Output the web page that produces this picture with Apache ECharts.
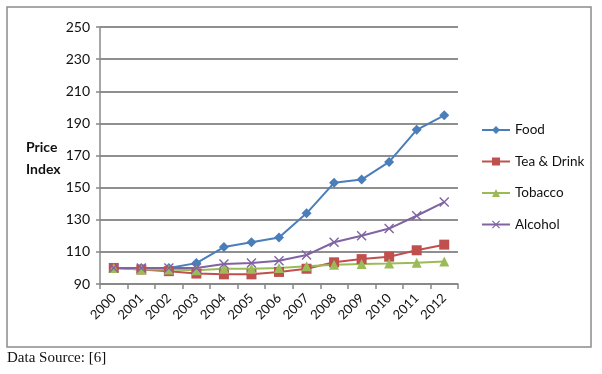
<!DOCTYPE html>
<html>
<head>
<meta charset="utf-8">
<script src="https://cdn.jsdelivr.net/npm/echarts@6/dist/echarts.min.js"></script>
<style>
    html, body { margin: 0; padding: 0; background: #fff; }
    #chart { width: 602px; height: 374px; }
</style>
</head>
<body>
<div id="chart"></div>
<script>
// categories and series values
const years = ['2000', '2001', '2002', '2003', '2004', '2005', '2006', '2007', '2008', '2009', '2010', '2011', '2012'];
const food = [100, 100, 100, 103, 113, 116, 119, 134, 153, 155, 166, 186, 195];
const teaDrink = [100, 99, 98, 96.5, 96, 96, 97.5, 99.5, 103.5, 105.5, 107, 111, 114.5];
const tobacco = [100, 99, 99, 98.5, 99.5, 99.5, 100, 101, 102, 102.5, 102.8, 103.2, 104];
const alcohol = [100, 100, 100, 100, 102.5, 103, 104.5, 108, 116, 120, 124.5, 132.5, 141];
const yTicks = { min: 90, max: 250, interval: 20 };

const chart = echarts.init(document.getElementById('chart'));

// cross marker like the Excel 'x'
const crossSymbol = 'path://M0,1L1,0L5,4L9,0L10,1L6,5L10,9L9,10L5,6L1,10L0,9L4,5Z';

function lineSeries(name, data, color, symbol, size) {
    return {
        name: name,
        type: 'line',
        data: data,
        symbol: symbol,
        symbolSize: size,
        showAllSymbol: true,
        lineStyle: { color: color, width: 2 },
        itemStyle: { color: color },
        emphasis: { disabled: true }
    };
}

const option = {
    animation: false,
    textStyle: { fontFamily: 'Lato, "Noto Sans", sans-serif' },
    graphic: [
        {
            type: 'rect',
            shape: { x: 7, y: 7, width: 584, height: 340 },
            style: { fill: 'none', stroke: '#8c8c8c', lineWidth: 1.5 },
            silent: true
        },
        {
            type: 'text',
            left: 26,
            top: 136,
            style: {
                text: 'Price\nIndex',
                font: 'bold 14px Lato, "Noto Sans", sans-serif',
                fill: '#111',
                align: 'center',
                lineHeight: 22
            }
        },
        {
            type: 'text',
            left: 7,
            top: 351,
            style: {
                text: 'Data Source: [6]',
                font: '15px "Liberation Serif", serif',
                fill: '#111'
            }
        }
    ],
    legend: {
        orient: 'vertical',
        left: 476,
        top: 118,
        itemWidth: 28,
        itemHeight: 10,
        itemGap: 17.5,
        textStyle: { fontSize: 13.5, color: '#111' },
        data: ['Food', 'Tea & Drink', 'Tobacco', 'Alcohol']
    },
    grid: {
        left: 100,
        right: 144,
        top: 27,
        bottom: 90
    },
    xAxis: {
        type: 'category',
        data: years,
        boundaryGap: true,
        axisLine: { lineStyle: { color: '#888', width: 1.5 } },
        axisTick: { show: true, length: 5, lineStyle: { color: '#888', width: 1.5 } },
        axisLabel: { rotate: 45, fontSize: 13, color: '#111', margin: 12, interval: 0 }
    },
    yAxis: {
        type: 'value',
        min: yTicks.min,
        max: yTicks.max,
        interval: yTicks.interval,
        axisLine: { show: true, lineStyle: { color: '#888', width: 1.5 } },
        axisTick: { show: true, length: 4, lineStyle: { color: '#888', width: 1.5 } },
        axisLabel: { fontSize: 14, color: '#111', margin: 10 },
        splitLine: { lineStyle: { color: '#8f8f8f', width: 2 } }
    },
    series: [
        lineSeries('Food', food, '#4a7ebb', 'diamond', 10),
        lineSeries('Tea & Drink', teaDrink, '#c0504d', 'rect', 10),
        lineSeries('Tobacco', tobacco, '#9bbb59', 'triangle', 10),
        lineSeries('Alcohol', alcohol, '#8064a2', crossSymbol, 10)
    ]
};

chart.setOption(option);
</script>
</body>
</html>
